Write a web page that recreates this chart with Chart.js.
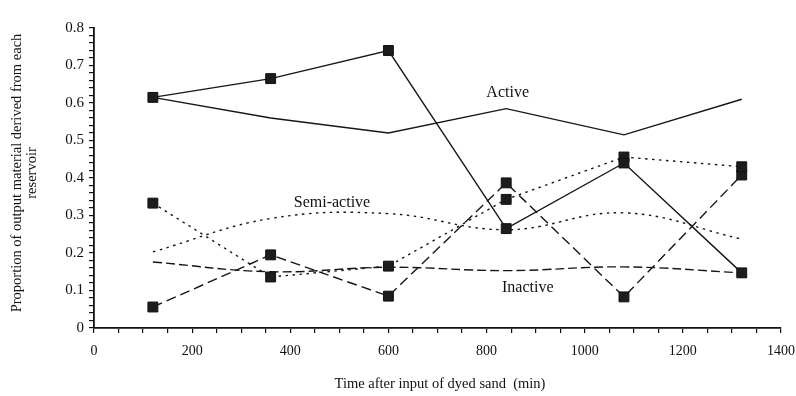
<!DOCTYPE html>
<html>
<head>
<meta charset="utf-8">
<script src="https://cdn.jsdelivr.net/npm/chart.js@4/dist/chart.umd.min.js"></script>
<style>
  html, body { margin: 0; padding: 0; background: #fff; }
  #wrap { width: 796px; height: 396px; }
</style>
</head>
<body>
<div id="wrap"><canvas id="c" width="796" height="396"></canvas></div>
<script>
// Sampling times (min) and proportions of output material from each reservoir
const times = [120, 360, 600, 840, 1080, 1320];

// Measured proportions (marked points)
const activeObserved   = [0.615, 0.665, 0.740, 0.265, 0.440, 0.147];
const semiObserved     = [0.333, 0.136, 0.165, 0.343, 0.456, 0.430];
const inactiveObserved = [0.056, 0.195, 0.085, 0.387, 0.083, 0.408];

// Reservoir model curves
const activeModel   = [0.615, 0.560, 0.520, 0.585, 0.515, 0.610];
const semiModel     = [0.203, 0.292, 0.305, 0.262, 0.307, 0.237];
const inactiveModel = [0.176, 0.150, 0.162, 0.153, 0.163, 0.147];

// Curve labels and their anchor positions in data units
const curveLabels = ['Active', 'Semi-active', 'Inactive'];
const labelX = [843, 485, 884];
const labelY = [0.627, 0.333, 0.107];

// Axis ranges and tick steps
const xMax = 1400, xMajor = 200, xMinor = 50;
const yMax = 0.8, yMajor = 0.1, yMinor = 0.02;

const xTitle = 'Time after input of dyed sand  (min)';
const yTitle = ['Proportion of output material derived from each', 'reservoir'];

const serif = '"Liberation Serif", "Times New Roman", serif';
const ink = '#161616';

const toPts = arr => arr.map((v, i) => ({ x: times[i], y: v }));

function observed(values, dash) {
  return {
    data: toPts(values),
    borderColor: ink,
    borderWidth: 1.4,
    borderDash: dash,
    tension: 0,
    pointStyle: 'rect',
    pointRadius: 7,
    pointBackgroundColor: '#1c1c1c',
    pointBorderColor: '#111',
    pointBorderWidth: 1,
    fill: false
  };
}
function model(values, dash, tension) {
  return {
    data: toPts(values),
    borderColor: ink,
    borderWidth: 1.4,
    borderDash: dash,
    tension: tension,
    pointRadius: 0,
    fill: false
  };
}

const textPlugin = {
  id: 'textPlugin',
  afterDatasetsDraw(chart) {
    const { ctx, chartArea, scales } = chart;
    ctx.save();
    ctx.fillStyle = '#111';
    ctx.textAlign = 'center';
    ctx.textBaseline = 'middle';
    // curve names
    ctx.font = '16px ' + serif;
    curveLabels.forEach((t, i) => {
      ctx.fillText(t, scales.x.getPixelForValue(labelX[i]), scales.y.getPixelForValue(labelY[i]));
    });
    // axis titles
    ctx.font = '14.5px ' + serif;
    ctx.fillText(xTitle, 440, 384);
    ctx.translate(17, 173);
    ctx.rotate(-Math.PI / 2);
    ctx.fillText(yTitle[0], 0, 0);
    ctx.fillText(yTitle[1], 0, 15);
    ctx.restore();
  }
};

function stepTicks(max, step) {
  const out = [];
  const n = Math.round(max / step);
  for (let i = 0; i <= n; i++) out.push({ value: +(i * step).toFixed(6) });
  return out;
}

new Chart(document.getElementById('c'), {
  type: 'line',
  data: {
    datasets: [
      observed(activeObserved, []),
      observed(semiObserved, [2.5, 4.5]),
      observed(inactiveObserved, [10, 5]),
      model(activeModel, [], 0),
      model(semiModel, [2.5, 4.5], 0.4),
      model(inactiveModel, [9, 4], 0.4)
    ]
  },
  options: {
    responsive: false,
    animation: false,
    devicePixelRatio: 1,
    layout: { padding: { top: 28, right: 15, left: 0, bottom: 0 } },
    plugins: { legend: { display: false }, tooltip: { enabled: false } },
    scales: {
      x: {
        type: 'linear',
        min: 0,
        max: xMax,
        afterFit(s) { s.height = 68; s.paddingLeft = 0; s.paddingRight = 0; },
        afterBuildTicks(s) { s.ticks = stepTicks(xMax, xMinor); },
        ticks: {
          autoSkip: false,
          maxRotation: 0,
          padding: 10,
          color: '#111',
          font: { family: serif, size: 14 },
          callback: v => (Math.round(v) % xMajor === 0 ? String(Math.round(v)) : '')
        },
        grid: { drawOnChartArea: false, drawTicks: true, tickLength: 5, color: '#111', lineWidth: 1.2 },
        border: { display: true, color: '#111', width: 1.8 }
      },
      y: {
        type: 'linear',
        min: 0,
        max: yMax,
        afterFit(s) { s.width = 94; s.paddingTop = 0; s.paddingBottom = 0; },
        afterBuildTicks(s) { s.ticks = stepTicks(yMax, yMinor); },
        ticks: {
          autoSkip: false,
          padding: 5,
          color: '#111',
          font: { family: serif, size: 15 },
          callback: v => {
            const r = Math.round(v / yMajor);
            if (Math.abs(v / yMajor - r) > 1e-6) return '';
            return r === 0 ? '0' : (r * yMajor).toFixed(1);
          }
        },
        grid: { drawOnChartArea: false, drawTicks: true, tickLength: 5, color: '#111', lineWidth: 1.2 },
        border: { display: true, color: '#111', width: 1.8 }
      }
    }
  },
  plugins: [textPlugin]
});
</script>
</body>
</html>
